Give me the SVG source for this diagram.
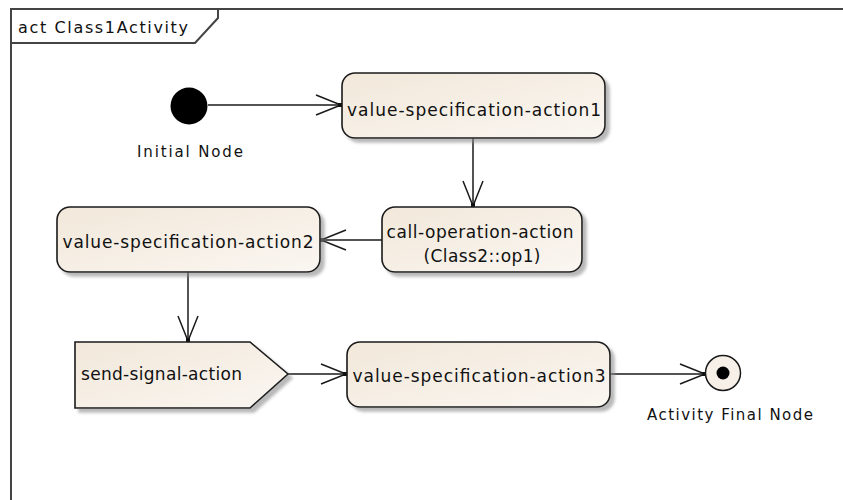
<svg xmlns="http://www.w3.org/2000/svg" width="843" height="500" viewBox="0 0 843 500">
  <style>
    .frame { fill: none; stroke: #444; stroke-width: 2; }
    .action { fill: url(#actionFill); stroke: #1a1a1a; stroke-width: 1.6; filter: url(#shadow); }
    .lbl { font-family: "DejaVu Sans", "Liberation Sans", sans-serif; font-size: 17px; fill: #111; }
    .cap { font-family: "DejaVu Sans", "Liberation Sans", sans-serif; font-size: 15px; fill: #111; }
    .flow { fill: none; stroke: #1a1a1a; stroke-width: 1.5; marker-end: url(#openArrow); }
  </style>
  <defs>
    <linearGradient id="actionFill" x1="0" y1="0" x2="1" y2="1">
      <stop offset="0" stop-color="#F2E8DA"/>
      <stop offset="1" stop-color="#FAF6F1"/>
    </linearGradient>
    <filter id="shadow" x="-10%" y="-10%" width="130%" height="140%">
      <feDropShadow dx="4" dy="4" stdDeviation="1.5" flood-color="#8a8a8a" flood-opacity="0.6"/>
    </filter>
    <marker id="openArrow" markerUnits="userSpaceOnUse" markerWidth="30" markerHeight="26" refX="26" refY="11" orient="auto" overflow="visible">
      <path d="M1,1 L26,11 L1,21" fill="none" stroke="#1a1a1a" stroke-width="1.5"/>
      <rect x="23" y="9" width="4" height="4" fill="#111"/>
    </marker>
  </defs>

  <!-- activity frame with name tab -->
  <g id="frame">
    <path class="frame" d="M11,500 L11,9 L843,9"/>
    <path class="frame" d="M11,43 L195,43 L218,18 L218,9"/>
    <text x="18" y="33" font-family="DejaVu Sans, Liberation Sans, sans-serif" font-size="16" fill="#111" textLength="170" lengthAdjust="spacing">act Class1Activity</text>
  </g>

  <!-- control flows -->
  <g id="connectors">
    <line class="flow" x1="208" y1="105" x2="341" y2="105"/>
    <line class="flow" x1="473" y1="138" x2="473" y2="206"/>
    <line class="flow" x1="382" y1="240" x2="321" y2="240"/>
    <line class="flow" x1="188" y1="272" x2="188" y2="341"/>
    <line class="flow" x1="288" y1="374" x2="346" y2="374"/>
    <line class="flow" x1="610" y1="374" x2="705" y2="374"/>
  </g>

  <g id="initial-node">
    <circle cx="189" cy="106" r="18.5" fill="#000"/>
    <text class="cap" x="190" y="157" text-anchor="middle" textLength="106" lengthAdjust="spacing">Initial Node</text>
  </g>

  <g id="value-specification-action1">
    <rect class="action" x="342" y="73" width="263" height="65" rx="13" ry="13"/>
    <text class="lbl" x="474" y="116" text-anchor="middle" textLength="254" lengthAdjust="spacing">value-specification-action1</text>
  </g>

  <g id="call-operation-action">
    <rect class="action" x="382" y="207" width="200" height="65" rx="13" ry="13"/>
    <text class="lbl" x="480" y="238" text-anchor="middle" textLength="187" lengthAdjust="spacing">call-operation-action</text>
    <text class="lbl" x="482" y="262" text-anchor="middle" textLength="117" lengthAdjust="spacing">(Class2::op1)</text>
  </g>

  <g id="value-specification-action2">
    <rect class="action" x="57" y="207" width="263" height="65" rx="13" ry="13"/>
    <text class="lbl" x="188" y="248" text-anchor="middle" textLength="251" lengthAdjust="spacing">value-specification-action2</text>
  </g>

  <g id="send-signal-action">
    <path class="action" d="M75,342 L250,342 L288,374 L250,408 L75,408 Z"/>
    <text class="lbl" x="81" y="380" textLength="161" lengthAdjust="spacing">send-signal-action</text>
  </g>

  <g id="value-specification-action3">
    <rect class="action" x="347" y="342" width="263" height="65" rx="13" ry="13"/>
    <text class="lbl" x="479" y="382" text-anchor="middle" textLength="253" lengthAdjust="spacing">value-specification-action3</text>
  </g>

  <g id="activity-final-node">
    <circle cx="723" cy="373" r="17.5" fill="#F6F0E8" stroke="#1a1a1a" stroke-width="1.5"/>
    <circle cx="723" cy="373" r="6.5" fill="#000"/>
    <text class="cap" x="730" y="420" text-anchor="middle" textLength="166" lengthAdjust="spacing">Activity Final Node</text>
  </g>
</svg>
